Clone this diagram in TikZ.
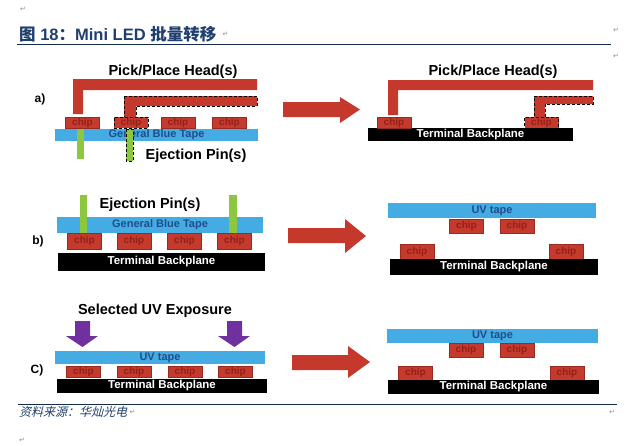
\documentclass[tikz,border=0pt]{standalone}
\usepackage{fontspec}
\usepackage{xcolor}
\usepackage{tikz}
\setmainfont{Liberation Sans}
\newfontfamily\cjk{Noto Sans CJK SC}
\newfontfamily\cjkslant[FakeSlant=0.25]{Noto Sans CJK SC}
\newfontfamily\retfont{DejaVu Sans}

\definecolor{headred}{HTML}{C4392B}
\definecolor{chipred}{HTML}{C43A2C}
\definecolor{chipedge}{HTML}{9A2A20}
\definecolor{chiptext}{HTML}{94201A}
\definecolor{tapeblue}{HTML}{45ABE3}
\definecolor{tapetext}{HTML}{1F4E8C}
\definecolor{pingreen}{HTML}{8DC63F}
\definecolor{uvpurple}{HTML}{7030A0}
\definecolor{titleblue}{HTML}{1F3F6E}

\begin{document}
\begin{tikzpicture}[x=1pt,y=-1pt,
	lbl/.style={inner sep=0pt,font=\bfseries\fontsize{14.5}{15}\selectfont},
	tag/.style={inner sep=0pt,font=\bfseries\fontsize{12}{12}\selectfont},
	tape/.style={fill=tapeblue,text=tapetext,inner sep=0pt,font=\bfseries\fontsize{11}{11}\selectfont},
	plane/.style={fill=black,text=white,inner sep=0pt,font=\bfseries\fontsize{11.5}{11.5}\selectfont},
	chip/.style={fill=chipred,draw=chipedge,text=chiptext,inner sep=0pt,minimum width=34pt,font=\bfseries\fontsize{10}{10}\selectfont},
	moved/.style={draw=black,densely dashed,line width=0.8pt},
	retmark/.style={inner sep=0pt,text=black!45,font=\retfont\fontsize{7}{7}\selectfont}]
\useasboundingbox (0,0) rectangle (638,445);

% heading and source line
\node[anchor=west,inner sep=0pt,text=titleblue,font=\bfseries\fontsize{16.5}{16.5}\selectfont] (title) at (19,34) {{\cjk\bfseries 图} 18{\cjk\bfseries ：}Mini LED {\cjk\bfseries 批量转移}};
\coordinate (TL) at (17,44);
\coordinate (TR) at (611,44);
\draw[titleblue!70!black,line width=0.8pt] (TL)--(TR);
\coordinate (BL) at (18,404);
\coordinate (BR) at (617,404);
\draw[titleblue!70!black,line width=0.8pt] (BL)--(BR);
\node[anchor=west,inner sep=0pt,text=titleblue,font=\cjkslant\fontsize{12}{12}\selectfont] (source) at (19,412) {资料来源：华灿光电};
\node[retmark] (r1) at (23,9) {↵};
\node[retmark,anchor=west,xshift=6pt] (r2) at (title.east) {↵};
\node[retmark] (r3) at (616,30) {↵};
\node[retmark] (r4) at (616,56) {↵};
\node[retmark] (r5) at (612,412) {↵};
\node[retmark] (r6) at (22,440) {↵};
\node[retmark,anchor=west,xshift=2pt] (r7) at (source.east) {↵};

% ---------------- a) ----------------
\node[tag] (taga) at (40,99) {a)};
\node[lbl] (pickA) at (173,72) {Pick/Place Head(s)};
\fill[headred] (73,79)--(257,79)--(257,90)--(83,90)--(83,114)--(73,114)--cycle;
\filldraw[fill=headred,moved] (124,96)--(257,96)--(257,106)--(136,106)--(136,117)--(124,117)--cycle;
\node[tape,minimum width=203pt,minimum height=12pt] (tapeA) at (156.5,135) {General Blue Tape};
\node[chip,minimum height=11pt] (a1) at (82.5,122.5) {chip};
\node[chip,minimum height=11pt,moved] (a2) at (131,122.5) {chip};
\node[chip,minimum height=11pt] (a3) at (178,122.5) {chip};
\node[chip,minimum height=11pt] (a4) at (229.5,122.5) {chip};
\fill[pingreen] (77,129) rectangle (84,159);
\filldraw[fill=pingreen,moved] (126,129) rectangle (133,161);
\node[lbl] (ejectA) at (196,156) {Ejection Pin(s)};

% arrow
\fill[headred] (283,102)--(340,102)--(340,97)--(360,109.5)--(340,123)--(340,117)--(283,117)--cycle;

\node[lbl] (pickB) at (493,72) {Pick/Place Head(s)};
\fill[headred] (388,80)--(593,80)--(593,90)--(398,90)--(398,115)--(388,115)--cycle;
\filldraw[fill=headred,moved] (534,96)--(593,96)--(593,104)--(545,104)--(545,117)--(534,117)--cycle;
\node[plane,minimum width=205pt,minimum height=13pt] (planeA) at (470.5,134.5) {Terminal Backplane};
\node[chip,minimum height=11pt] (b1) at (394,122.5) {chip};
\node[chip,minimum height=11pt,moved] (b2) at (541.5,122.5) {chip};

% ---------------- b) ----------------
\node[tag] (tagb) at (38,241) {b)};
\node[lbl] (ejectB) at (150,205) {Ejection Pin(s)};
\node[tape,minimum width=206pt,minimum height=16pt] (tapeB) at (160,225) {General Blue Tape};
\fill[pingreen] (80,195) rectangle (87,233);
\fill[pingreen] (229,195) rectangle (237,233);
\node[chip,minimum height=16pt] (c1) at (84.5,241) {chip};
\node[chip,minimum height=16pt] (c2) at (134,241) {chip};
\node[chip,minimum height=16pt] (c3) at (184.5,241) {chip};
\node[chip,minimum height=16pt] (c4) at (234.5,241) {chip};
\node[plane,minimum width=207pt,minimum height=18pt] (planeB) at (161.5,262) {Terminal Backplane};

% arrow
\fill[headred] (288,228)--(345,228)--(345,219)--(366,236)--(345,253)--(345,243)--(288,243)--cycle;

\node[tape,minimum width=208pt,minimum height=15pt] (uvB) at (492,210.5) {UV tape};
\node[chip,minimum height=14pt] (d1) at (466.5,226) {chip};
\node[chip,minimum height=14pt] (d2) at (517,226) {chip};
\node[chip,minimum height=15pt] (d3) at (417,251.5) {chip};
\node[chip,minimum height=15pt] (d4) at (566,251.5) {chip};
\node[plane,minimum width=208pt,minimum height=16pt] (planeC) at (494,267) {Terminal Backplane};

% ---------------- c) ----------------
\node[tag] (tagc) at (37,370) {C)};
\node[lbl] (uvexp) at (155,311) {Selected UV Exposure};
\fill[uvpurple] (75,321)--(90,321)--(90,336)--(98,336)--(82.5,347)--(66,336)--(75,336)--cycle;
\fill[uvpurple] (227,321)--(242,321)--(242,336)--(250,336)--(234.5,347)--(218,336)--(227,336)--cycle;
\node[tape,minimum width=210pt,minimum height=13pt] (uvC) at (160,357.5) {UV tape};
\node[chip,minimum height=11pt] (e1) at (83.5,371.5) {chip};
\node[chip,minimum height=11pt] (e2) at (134,371.5) {chip};
\node[chip,minimum height=11pt] (e3) at (185,371.5) {chip};
\node[chip,minimum height=11pt] (e4) at (235.5,371.5) {chip};
\node[plane,minimum width=210pt,minimum height=14pt] (planeD) at (162,386) {Terminal Backplane};

% arrow
\fill[headred] (292,355)--(348,355)--(348,346)--(370,362)--(348,378)--(348,370)--(292,370)--cycle;

\node[tape,minimum width=211pt,minimum height=14pt] (uvD) at (492.5,336) {UV tape};
\node[chip,minimum height=14pt] (f1) at (466,350) {chip};
\node[chip,minimum height=14pt] (f2) at (517,350) {chip};
\node[chip,minimum height=14pt] (f3) at (415.5,373) {chip};
\node[chip,minimum height=14pt] (f4) at (567,373) {chip};
\node[plane,minimum width=211pt,minimum height=14pt] (planeE) at (493.5,387) {Terminal Backplane};

\end{tikzpicture}
\end{document}
